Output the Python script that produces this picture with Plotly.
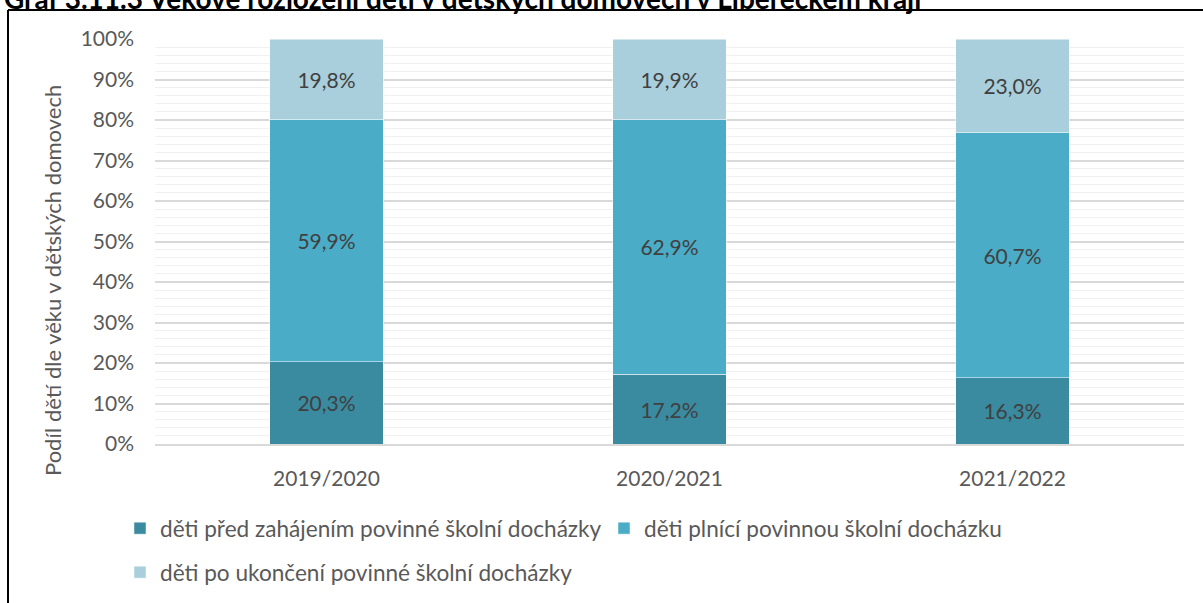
import plotly.graph_objects as go

categories = ["2019/2020", "2020/2021", "2021/2022"]
pred = [20.3, 17.2, 16.3]
plnici = [59.9, 62.9, 60.7]
po = [19.8, 19.9, 23.0]
names = [
    "děti před zahájením povinné školní docházky",
    "děti plnící povinnou školní docházku",
    "děti po ukončení povinné školní docházky",
]
colors = ["#3A8AA0", "#4AACC6", "#A9CFDC"]
title_text = "Graf 3.11.3 Věkové rozložení dětí v dětských domovech v Libereckém kraji"
ytitle = "Podíl dětí dle věku v dětských domovech"
FONT = "Lato"

W, H = 1203, 603
ML, MR, MT, MB = 155, 19, 39, 159
PW, PH = W - ML - MR, H - MT - MB

def px(x):
    return (x - ML) / PW

def py(y):
    return (H - MB - y) / PH

fig = go.Figure()
for vals, name, col, leg in zip([pred, plnici, po], names, colors, ["legend", "legend", "legend2"]):
    fig.add_trace(go.Bar(
        x=categories, y=vals, name=name,
        marker=dict(color=col, line=dict(color="rgba(255,255,255,0.5)", width=1)),
        texttemplate="%{y:.1f}%", textposition="inside", insidetextanchor="middle",
        textfont=dict(family=FONT, size=21, color="#404040"),
        legend=leg, hoverinfo="skip",
    ))

fig.update_layout(
    width=W, height=H, barmode="stack", bargap=0.67,
    separators=", ",
    margin=dict(l=ML, r=MR, t=MT, b=MB, autoexpand=False),
    paper_bgcolor="white", plot_bgcolor="white",
    font=dict(family=FONT, size=20, color="#595959"),
    uniformtext=dict(mode="show", minsize=10),
    legend=dict(orientation="h", x=px(120), y=py(507), xanchor="left", yanchor="top",
                font=dict(family=FONT, size=22.6, color="#595959"), traceorder="normal",
                itemwidth=30, entrywidth=439, entrywidthmode="pixels",
                bgcolor="rgba(0,0,0,0)"),
    legend2=dict(orientation="h", x=px(120), y=py(551), xanchor="left", yanchor="top",
                 font=dict(family=FONT, size=22.6, color="#595959"),
                 itemwidth=30, bgcolor="rgba(0,0,0,0)"),
    showlegend=True,
)
fig.update_yaxes(
    range=[0, 100], dtick=10, ticksuffix="%", showgrid=True, gridcolor="#D9D9D9", gridwidth=1.5,
    zeroline=False, showline=False, ticklabelstandoff=20,
    tickfont=dict(family=FONT, size=21, color="#595959"),
    minor=dict(dtick=2, showgrid=True, gridcolor="#F0F0F0", gridwidth=1),
    fixedrange=True,
)
fig.update_xaxes(
    showgrid=False, showline=True, linecolor="#D9D9D9", linewidth=1.5,
    ticklabelstandoff=15, tickfont=dict(family=FONT, size=21, color="#595959"),
    fixedrange=True,
)
# y-axis title placed as rotated annotation to match reference offset
fig.add_annotation(text=ytitle, xref="paper", yref="paper", x=px(52), y=py(281),
                   xanchor="center", yanchor="middle", textangle=-90, showarrow=False,
                   font=dict(family=FONT, size=22, color="#595959"))
# frame lines
fig.add_shape(type="line", xref="paper", yref="paper", x0=px(8), x1=px(8), y0=py(10), y1=py(610),
              line=dict(color="black", width=2))
fig.add_shape(type="line", xref="paper", yref="paper", x0=px(8), x1=px(1210), y0=py(10), y1=py(10),
              line=dict(color="black", width=2))
fig.add_annotation(text=f"<b>{title_text}</b>", xref="paper", yref="paper", x=px(2), y=py(-2),
                   xanchor="left", yanchor="middle", showarrow=False,
                   font=dict(family=FONT, size=28, color="black"))

fig.write_html("out.html", post_script="document.body.style.margin='0';",
               config={"displayModeBar": False})
